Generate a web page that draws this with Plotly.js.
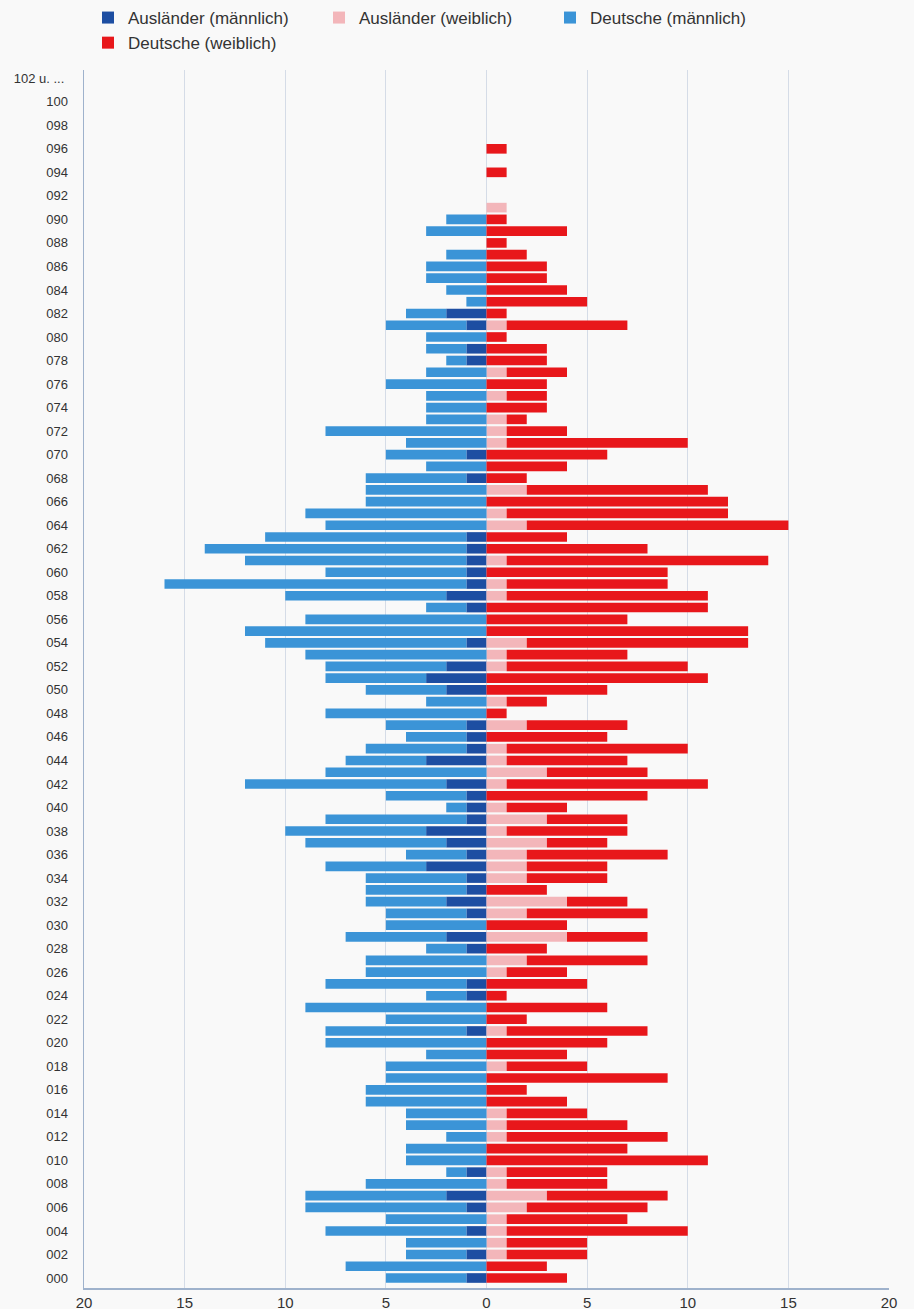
<!DOCTYPE html>
<html>
<head>
<meta charset="utf-8">
<script src="https://cdn.plot.ly/plotly-3.0.1.min.js"></script>
<style>
  html, body { margin: 0; padding: 0; background: #f9f9f9; }
  #chart { width: 914px; height: 1309px; }
</style>
</head>
<body>
<div id="chart"></div>
<script>
// Ages 0..102
const ages = Array.from({length: 103}, (_, i) => i);

// Ausländer (männlich), ages 0..102
const auslaenderMaennlich = [
  1,0,1,0,1,0,1,2,0,1,
  0,0,0,0,0,0,0,0,0,0,
  0,1,0,0,1,1,0,0,1,2,
  0,1,2,1,1,3,1,2,3,1,
  1,1,2,0,3,1,1,1,0,0,
  2,3,2,0,1,0,0,1,2,1,
  1,1,1,1,0,0,0,0,1,0,
  1,0,0,0,0,0,0,0,1,1,
  0,1,2,0,0,0,0,0,0,0,
  0,0,0,0,0,0,0,0,0,0,
  0,0,0
];
// Ausländer (weiblich)
const auslaenderWeiblich = [
  0,0,1,1,1,1,2,3,1,1,
  0,0,1,1,1,0,0,0,1,0,
  0,1,0,0,0,0,1,2,0,4,
  0,2,4,0,2,2,2,3,1,3,
  1,0,1,3,1,1,0,2,0,1,
  0,0,1,1,2,0,0,0,1,1,
  0,1,0,0,2,1,0,2,0,0,
  0,1,1,1,0,1,0,1,0,0,
  0,1,0,0,0,0,0,0,0,0,
  0,1,0,0,0,0,0,0,0,0,
  0,0,0
];
// Deutsche (männlich)
const deutscheMaennlich = [
  4,7,3,4,7,5,8,7,6,1,
  4,4,2,4,4,6,6,5,5,3,
  8,7,5,9,2,7,6,6,2,5,
  5,4,4,5,5,5,3,7,7,7,
  1,4,10,8,4,5,3,4,8,3,
  4,5,6,9,10,12,9,2,8,15,
  7,11,13,10,8,9,6,6,5,3,
  4,4,8,3,3,3,5,3,1,2,
  3,4,2,1,2,3,3,2,0,3,
  2,0,0,0,0,0,0,0,0,0,
  0,0,0
];
// Deutsche (weiblich)
const deutscheWeiblich = [
  4,3,4,4,9,6,6,6,5,5,
  11,7,8,6,4,4,2,9,4,4,
  6,7,2,6,1,5,3,6,3,4,
  4,6,3,3,4,4,7,3,6,4,
  3,8,10,5,6,9,6,5,1,2,
  6,11,9,6,11,13,7,11,10,8,
  9,13,8,4,13,11,12,9,2,4,
  6,9,3,1,3,2,3,3,3,3,
  1,6,1,5,4,3,3,2,1,4,
  1,0,0,0,1,0,1,0,0,0,
  0,0,0
];

const yTickVals = ages.filter(a => a % 2 === 0);
const yTickText = yTickVals.map(a => a === 102 ? '102 u. ...\u00a0' : String(a).padStart(3, '0'));
const xTickVals = [-20, -15, -10, -5, 0, 5, 10, 15, 20];
const xTickText = ['20', '15', '10', '5', '0', '5', '10', '15', '20'];

const neg = arr => arr.map(v => -v);

const traces = [
  {type: 'bar', orientation: 'h', name: 'Ausländer (männlich)', y: ages, x: neg(auslaenderMaennlich),
   marker: {color: '#1d4ea2'}},
  {type: 'bar', orientation: 'h', name: 'Ausländer (weiblich)', y: ages, x: auslaenderWeiblich,
   marker: {color: '#f3b6ba'}},
  {type: 'bar', orientation: 'h', name: 'Deutsche (männlich)', y: ages, x: neg(deutscheMaennlich),
   marker: {color: '#3b94d7'}},
  {type: 'bar', orientation: 'h', name: 'Deutsche (weiblich)', y: ages, x: deutscheWeiblich,
   marker: {color: '#e8171b'}}
];

const layout = {
  width: 914, height: 1309,
  margin: {l: 84, r: 25, t: 70, b: 21},
  paper_bgcolor: '#f9f9f9',
  plot_bgcolor: '#f9f9f9',
  barmode: 'relative',
  bargap: 0.18,
  font: {family: 'Liberation Sans, Arial, sans-serif', color: '#333'},
  showlegend: true,
  legend: {
    orientation: 'h', x: 0.005, xanchor: 'left',
    y: 1.0, yanchor: 'top', yref: 'container',
    entrywidth: 186, entrywidthmode: 'pixels',
    font: {size: 17, color: '#333'},
    traceorder: 'normal',
    bgcolor: 'rgba(0,0,0,0)'
  },
  xaxis: {
    range: [-20, 20],
    tickvals: xTickVals, ticktext: xTickText,
    showgrid: true, gridcolor: '#d5dce7', gridwidth: 1,
    zeroline: false,
    showline: true, linecolor: '#9fb2cc', linewidth: 1.5,
    tickfont: {size: 15, color: '#333'},
    ticks: '', fixedrange: true
  },
  yaxis: {
    range: [-0.85, 102.7],
    tickvals: yTickVals, ticktext: yTickText,
    showgrid: false, zeroline: false,
    showline: true, linecolor: '#9fb2cc', linewidth: 1.5,
    ticks: 'outside', ticklen: 12, tickcolor: 'rgba(0,0,0,0)',
    tickfont: {size: 13, color: '#333'},
    fixedrange: true
  }
};

Plotly.newPlot('chart', traces, layout, {displayModeBar: false, staticPlot: true});
</script>
</body>
</html>
